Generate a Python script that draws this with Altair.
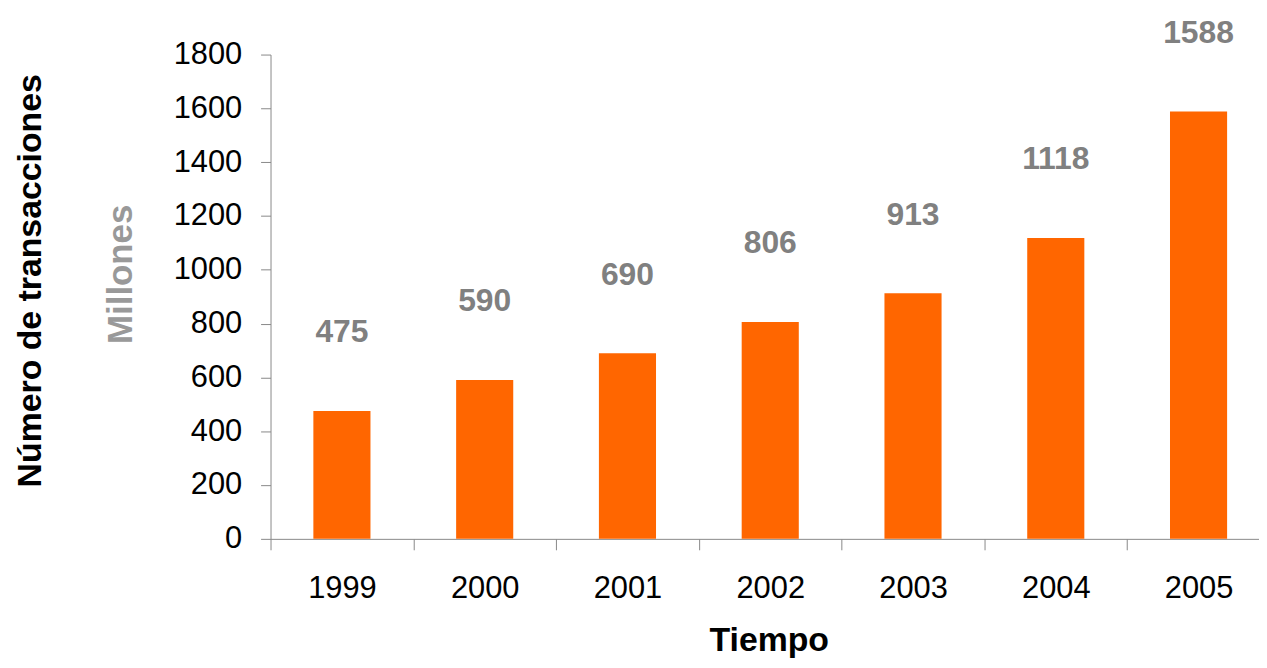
import altair as alt
import pandas as pd

years = ["1999", "2000", "2001", "2002", "2003", "2004", "2005"]
values = [475, 590, 690, 806, 913, 1118, 1588]
y_ticks = [0, 200, 400, 600, 800, 1000, 1200, 1400, 1600, 1800]

df = pd.DataFrame({"year": years, "value": values})
note = pd.DataFrame({"t": ["Millones"]})

FONT = "Liberation Sans"
W, H = 994, 487
X_RANGE = [0, 1005]

x_enc = alt.X(
    "year:N",
    sort=years,
    scale=alt.Scale(paddingInner=0, paddingOuter=0, range=X_RANGE),
    axis=alt.Axis(
        title="Tiempo",
        labelAngle=0,
        labelFont=FONT,
        labelFontSize=31,
        labelColor="#000000",
        labelPadding=24,
        tickBand="extent",
        tickSize=11,
        tickColor="#888888",
        domainColor="#888888",
        titleFont=FONT,
        titleFontSize=34,
        titleFontWeight="bold",
        titleColor="#000000",
        titleX=501,
        titleY=102,
        titleBaseline="middle",
        titleAnchor="start",
        titleAlign="center",
    ),
)

y_enc = alt.Y(
    "value:Q",
    scale=alt.Scale(domain=[0, 1800], nice=False),
    axis=alt.Axis(
        title="Número de transacciones",
        values=y_ticks,
        format="d",
        grid=False,
        labelFont=FONT,
        labelFontSize=31,
        labelColor="#000000",
        labelPadding=19,
        tickSize=10,
        tickColor="#888888",
        domainColor="#888888",
        titleFont=FONT,
        titleFontSize=34,
        titleFontWeight="bold",
        titleColor="#000000",
        titleAngle=270,
        titleX=-241,
        titleY=227,
        titleBaseline="middle",
        titleAlign="center",
    ),
)

bars = alt.Chart(df).mark_bar(color="#FF6600", width=alt.RelativeBandSize(0.4)).encode(x=x_enc, y=y_enc)

labels = alt.Chart(df).mark_text(
    font=FONT, fontSize=32, fontWeight="bold", color="#808080",
    baseline="middle", align="center", dy=-79,
).encode(x=alt.X("year:N", sort=years), y=alt.Y("value:Q"), text=alt.Text("value:Q"))

millones = alt.Chart(note).mark_text(
    font=FONT, fontSize=35, fontWeight="bold", color="#999999",
    angle=270, baseline="middle", align="center",
).encode(x=alt.value(-150), y=alt.value(221), text="t:N")

chart = (
    alt.layer(bars, labels, millones)
    .properties(
        width=W,
        height=H,
        autosize=alt.AutoSizeParams(type="none"),
        padding={"left": 264, "top": 45, "right": 0, "bottom": 120},
    )
    .configure_view(stroke=None)
)

chart.save("out.html", embed_options={"renderer": "svg", "actions": False})
